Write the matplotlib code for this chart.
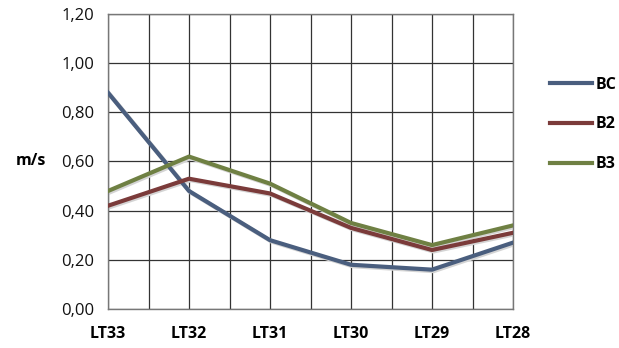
import matplotlib.pyplot as plt
from matplotlib.ticker import FixedLocator, FuncFormatter

categories = ["LT33", "LT32", "LT31", "LT30", "LT29", "LT28"]
bc = [0.88, 0.48, 0.28, 0.18, 0.16, 0.27]
b2 = [0.42, 0.53, 0.47, 0.33, 0.24, 0.31]
b3 = [0.48, 0.62, 0.51, 0.35, 0.26, 0.34]
y_ticks = [0.0, 0.2, 0.4, 0.6, 0.8, 1.0, 1.2]

series = [("BC", bc, "#4a5e7e"), ("B2", b2, "#7b3b3a"), ("B3", b3, "#6f8043")]


def main() -> None:
    plt.rcParams["font.family"] = ["Open Sans", "DejaVu Sans"]
    fig = plt.figure(figsize=(6.19, 3.48), dpi=100)
    ax = fig.add_axes([108 / 619, 39 / 348, 405 / 619, 295 / 348])

    x = list(range(len(categories)))
    for name, vals, color in series:
        # soft shadow under each line, like the Excel original
        ax.plot([v + 0.02 for v in x], [v - 0.006 for v in vals], color="#d4d4d4",
                lw=3, zorder=2)
        ax.plot(x, vals, color=color, lw=3, label=name, zorder=3)

    ax.set_xlim(0, len(categories) - 1)
    ax.set_ylim(0, 1.2)
    ax.set_xticks(x)
    ax.set_xticklabels(categories, fontweight="bold", fontsize=11.5)
    ax.xaxis.set_minor_locator(FixedLocator([i + 0.5 for i in x[:-1]]))
    ax.set_yticks(y_ticks)
    ax.yaxis.set_major_formatter(FuncFormatter(lambda v, p: f"{v:.2f}".replace(".", ",")))
    ax.tick_params(axis="y", labelsize=12, length=0, pad=10, colors="#111111")
    ax.tick_params(axis="x", which="both", length=0, pad=12)
    ax.grid(True, which="major", color="#333333", lw=0.9)
    ax.grid(True, which="minor", axis="x", color="#333333", lw=0.9)
    for s in ax.spines.values():
        s.set_color("#777777")
        s.set_linewidth(1)

    ax.set_ylabel("m/s", rotation=0, fontweight="bold", fontsize=11.5, va="center")
    ax.yaxis.set_label_coords(-0.19, 0.5)

    fig.legend(loc="center left", bbox_to_anchor=(536 / 619, 1 - 124.5 / 348),
               frameon=False, handlelength=2.6, handletextpad=0.25,
               labelspacing=1.5, prop={"weight": "bold", "size": 11.5})

    fig.savefig("out.png", dpi=100)


if __name__ == "__main__":
    main()
